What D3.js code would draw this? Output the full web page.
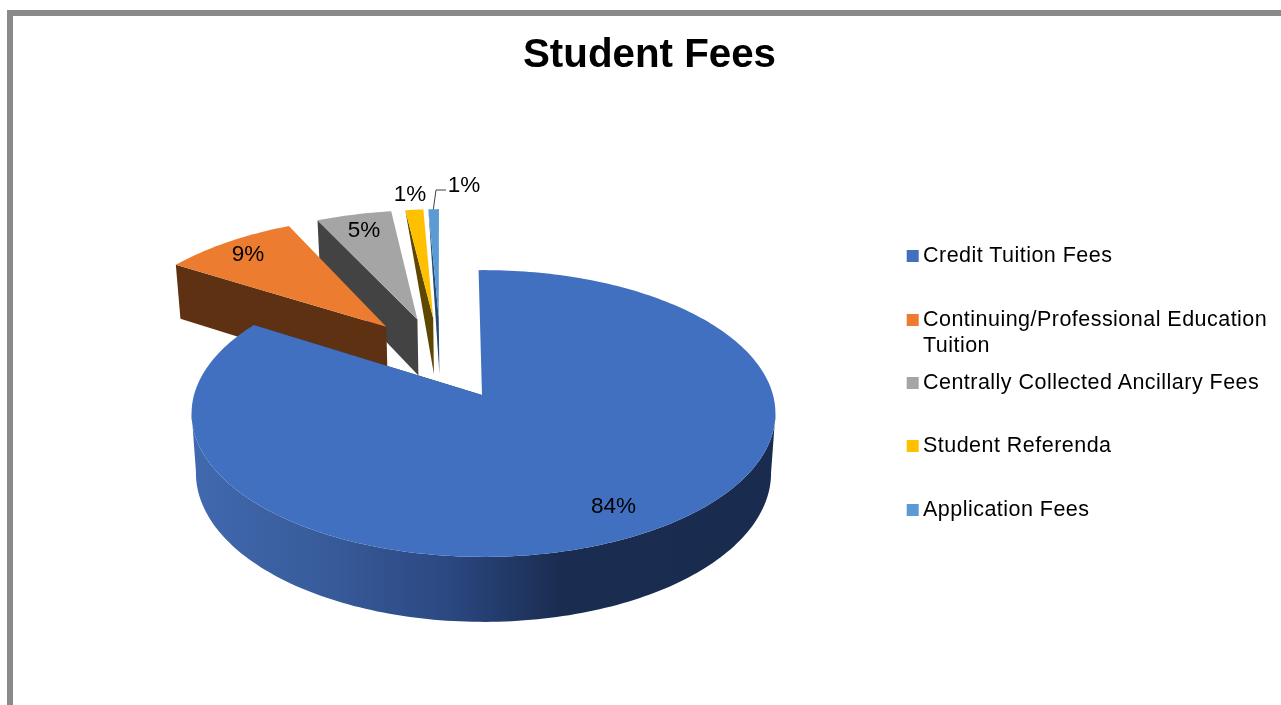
<!DOCTYPE html>
<html>
<head>
<meta charset="utf-8">
<script src="https://cdn.jsdelivr.net/npm/d3@7/dist/d3.min.js"></script>
<style>
html,body{margin:0;padding:0;background:#fff;overflow:hidden}
svg{display:block;filter:blur(0.35px)}
text{font-family:"Liberation Sans",Arial,sans-serif;fill:#000}
</style>
</head>
<body>
<svg id="chart" width="1281" height="705"></svg>
<script>
const chartTitle = "Student Fees";
const categories = ["Credit Tuition Fees","Continuing/Professional Education Tuition","Centrally Collected Ancillary Fees","Student Referenda","Application Fees"];
const legendLines = [["Credit Tuition Fees"],["Continuing/Professional Education","Tuition"],["Centrally Collected Ancillary Fees"],["Student Referenda"],["Application Fees"]];
const values = [84.2,8.9,5.0,1.2,0.7];
const colors = ["#4270C0","#EB7C30","#A5A5A5","#FFC000","#5B9BD5"];
const sideColors = ["#203864","#5F3113","#434343","#5E4700","#234A70"];

const W=1281,H=705;
const svg=d3.select("#chart");
const total=d3.sum(values);

// Frame
svg.append("path").attr("d",`M10 ${H} V13 H${W}`).attr("fill","none").attr("stroke","#8A8A8A").attr("stroke-width",6);

// Title
svg.append("text").attr("x",649.5).attr("y",67).attr("text-anchor","middle")
  .attr("font-size",40.3).attr("font-weight","bold").text(chartTitle);

// Perspective projection of the pie plane
const apexX=483.5, apexY=395, kx=289.5, ky=141, persp=-0.129, explode=0.315;
const rotation=-1.1*Math.PI/180;
const nudgeX=[0,2.2,0.5,0,0.5], nudgeY=[0,-1,0,0,0];
function proj(u,v){const w=1+persp*v;return [apexX+kx*u/w, apexY+ky*v/w];}
function lower([x,y]){const dy=y-apexY;return [apexX+(x-apexX)*0.985, y+58.9+0.0377*dy];}

const pie=d3.pie().sort(null).value(d=>d).startAngle(rotation).endAngle(rotation+2*Math.PI);
const arcs=pie(values);
const dir=a=>[Math.sin(a),-Math.cos(a)];
const mid=d=>(d.startAngle+d.endAngle)/2;
const blueDir=dir(mid(arcs[0]));
const line=d3.line();

const slices=arcs.map((d,i)=>{
  const m=dir(mid(d));
  const c=[explode*(m[0]-blueDir[0]),explode*(m[1]-blueDir[1])];
  const n=Math.max(4,Math.ceil((d.endAngle-d.startAngle)/0.02));
  const shift=p=>[p[0]+nudgeX[i],p[1]+nudgeY[i]];
  const rim=d3.range(n+1).map(k=>{
    const a=d.startAngle+(d.endAngle-d.startAngle)*k/n;
    const p=dir(a);
    return shift(proj(c[0]+p[0],c[1]+p[1]));
  });
  const apex=i?shift(proj(c[0],c[1])):[apexX-1.5,apexY];
  return {i,rim,apex};
});

const defs=svg.append("defs");
const grad=defs.append("linearGradient").attr("id","wall").attr("gradientUnits","userSpaceOnUse")
  .attr("x1",192).attr("x2",775).attr("y1",0).attr("y2",0);
[[0,"#4169AF"],[0.22,"#385C9B"],[0.45,"#2B4780"],[0.63,"#1A2C50"],[1,"#192B4F"]]
  .forEach(([o,c])=>grad.append("stop").attr("offset",o).attr("stop-color",c));

const g=svg.append("g");
// back slices first, main slice last
[4,3,2,1,0].forEach(i=>{
  const s=slices[i];
  const first=s.rim[0], last=s.rim[s.rim.length-1];
  if(i===0){
    // radial wall at the slice's closing edge
    g.append("path").attr("d",line([last,lower(last),lower(s.apex),s.apex])+"Z").attr("fill",sideColors[i]);
    // outer wall: only the front half of the rim, between its two horizontal extremes
    const iR=d3.greatestIndex(s.rim,p=>p[0]), iL=d3.leastIndex(s.rim,p=>p[0]);
    const front=s.rim.slice(iR,iL+1);
    g.append("path").attr("d",line(front.concat(front.map(lower).reverse()))+"Z").attr("fill","url(#wall)");
  } else if(i>=3){
    g.append("path").attr("d",line([first,lower(s.apex),s.apex])+"Z").attr("fill",sideColors[i]);
  } else {
    g.append("path").attr("d",line([first,lower(first),lower(s.apex),s.apex])+"Z").attr("fill",sideColors[i]);
  }
  g.append("path").attr("d",line([s.apex].concat(s.rim))+"Z").attr("fill",colors[i]);
});

// Leader line
svg.append("path").attr("d","M433.3 209.5 L436 190 H446").attr("fill","none").attr("stroke","#404040").attr("stroke-width",1);

// Data labels
const fmt=v=>Math.round(v/total*100)+"%";
const labelPos=[[613.5,513],[248,261],[364,237],[410,201],[464,192]];
svg.append("g").selectAll("text").data(values).join("text")
  .attr("x",(d,i)=>labelPos[i][0]).attr("y",(d,i)=>labelPos[i][1])
  .attr("text-anchor","middle").attr("font-size",22.5).text(fmt);

// Legend
const legendY=[255,319,382,445,509];
const lg=svg.append("g");
categories.forEach((c,i)=>{
  lg.append("rect").attr("x",906.7).attr("y",legendY[i]-5).attr("width",12).attr("height",12).attr("fill",colors[i]);
  legendLines[i].forEach((t,k)=>{
    lg.append("text").attr("x",923).attr("y",legendY[i]+7+k*26).attr("font-size",21.5).attr("letter-spacing",0.47).text(t);
  });
});
</script>
</body>
</html>
